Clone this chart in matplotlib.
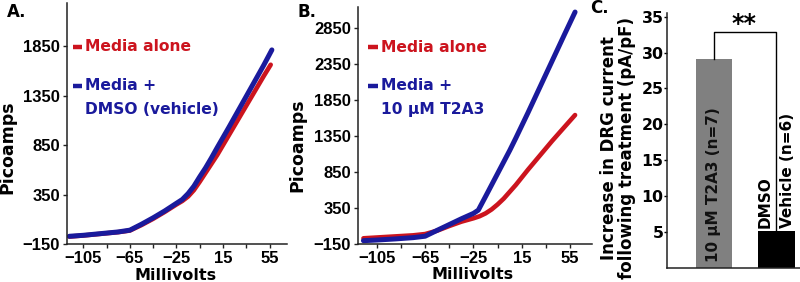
import matplotlib
matplotlib.use('Agg')
import matplotlib.pyplot as plt
from matplotlib.ticker import FixedLocator

RED = '#cc141e'
BLUE = '#1a1a9c'

# Panel A: ramp current, media alone vs DMSO vehicle
a_blue_mv = [-117, -105, -90, -75, -65, -55, -45, -35, -25, -20, -15, -10, -5, 0, 5, 10, 20, 30, 40, 50, 57]
a_blue_pa = [-72, -62, -45, -28, -10, 50, 115, 185, 262, 300, 360, 435, 530, 620, 720, 825, 1030, 1240, 1450, 1660, 1815]
a_red_mv = [-117, -105, -90, -75, -65, -55, -45, -35, -25, -20, -15, -10, -5, 0, 5, 10, 20, 30, 40, 50, 56]
a_red_pa = [-75, -64, -47, -30, -14, 42, 105, 175, 250, 285, 330, 395, 480, 570, 660, 750, 950, 1150, 1350, 1550, 1665]

# Panel B: media alone vs 10 uM T2A3
b_blue_mv = [-116, -105, -90, -75, -65, -55, -45, -35, -25, -21, -15, -10, -5, 0, 5, 10, 20, 30, 40, 50, 59]
b_blue_pa = [-104, -95, -80, -62, -42, 40, 120, 200, 275, 320, 510, 670, 830, 990, 1150, 1320, 1670, 2030, 2390, 2750, 3070]
b_red_mv = [-116, -105, -90, -75, -65, -55, -45, -35, -25, -20, -15, -10, -5, 0, 10, 20, 30, 40, 50, 59]
b_red_pa = [-71, -60, -45, -30, -12, 35, 100, 160, 207, 235, 275, 330, 400, 480, 670, 880, 1080, 1280, 1470, 1640]

# Panel C: increase in DRG current density
c_labels = ['10 \u03bcM T2A3 (n=7)', 'DMSO', 'Vehicle (n=6)']
c_values = [29.1, 5.15]
c_colors = ['#808080', '#000000']

mv_major = [-105, -65, -25, 15, 55]
mv_minor = [-85, -45, -5, 35]
a_yticks = [-150, 350, 850, 1350, 1850]
b_yticks = [-150, 350, 850, 1350, 1850, 2350, 2850]
c_yticks = [5, 10, 15, 20, 25, 30, 35]

plt.rcParams['font.family'] = ['DejaVu Sans']
plt.rcParams['font.weight'] = 'bold'

fig = plt.figure(figsize=(8.0, 2.82), dpi=100)
ax_a = fig.add_axes([0.08375, 0.1348, 0.275, 0.8546])
ax_b = fig.add_axes([0.4475, 0.1348, 0.2925, 0.8404])
ax_c = fig.add_axes([0.83375, 0.0511, 0.16625, 0.9018])


def style_iv(ax, yticks):
    for side in ('top', 'right'):
        ax.spines[side].set_visible(False)
    for side in ('left', 'bottom'):
        ax.spines[side].set_linewidth(1.1)
        ax.spines[side].set_color('#222222')
    ax.xaxis.set_major_locator(FixedLocator(mv_major))
    ax.xaxis.set_minor_locator(FixedLocator(mv_minor))
    ax.set_yticks(yticks)
    ax.tick_params(which='both', direction='out', length=3, width=1, color='#222222', pad=2)
    for lab in ax.get_xticklabels() + ax.get_yticklabels():
        lab.set_family('Liberation Sans')
        lab.set_fontweight('bold')
        lab.set_fontsize(12)
    ax.set_xlabel('Millivolts', fontsize=11.5, fontweight='bold')
    ax.set_ylabel('Picoamps', fontsize=12.5, fontweight='bold')


def key(ax, x, y, color, lines):
    # short coloured dash followed by the label text
    ax.plot([x, x + 0.04], [y, y], transform=ax.transAxes, color=color,
            lw=3.2, solid_capstyle='butt', clip_on=False)
    for i, txt in enumerate(lines):
        ax.text(x + 0.055, y - i * 0.098, txt, transform=ax.transAxes, color=color,
                fontsize=11.2, fontweight='bold', va='center', ha='left')


# ---- A ----
ax_a.plot(a_red_mv, a_red_pa, color=RED, lw=3.3, solid_capstyle='round')
ax_a.plot(a_blue_mv, a_blue_pa, color=BLUE, lw=3.6, solid_capstyle='round')
ax_a.set_xlim(-119, 70)
ax_a.set_ylim(-150, 2290)
style_iv(ax_a, a_yticks)
ax_a.xaxis.set_label_coords(0.495, -0.098)
ax_a.yaxis.set_label_coords(-0.229, 0.40)
key(ax_a, 0.027, 0.819, RED, ['Media alone'])
key(ax_a, 0.027, 0.656, BLUE, ['Media +', 'DMSO (vehicle)'])

# ---- B ----
ax_b.plot(b_red_mv, b_red_pa, color=RED, lw=3.3, solid_capstyle='round')
ax_b.plot(b_blue_mv, b_blue_pa, color=BLUE, lw=3.6, solid_capstyle='round')
ax_b.set_xlim(-120.5, 73)
ax_b.set_ylim(-150, 3140)
style_iv(ax_b, b_yticks)
ax_b.xaxis.set_label_coords(0.491, -0.099)
ax_b.yaxis.set_label_coords(-0.219, 0.418)
key(ax_b, 0.044, 0.831, RED, ['Media alone'])
key(ax_b, 0.044, 0.667, BLUE, ['Media +', '10 \u03bcM T2A3'])

# ---- C ----
pos = [0, 1]
ax_c.bar(pos, c_values, width=0.59, color=c_colors)
ax_c.set_xlim(-0.753, 1.382)
ax_c.set_ylim(0, 35.5)
ax_c.set_xticks([])
ax_c.set_yticks(c_yticks)
for side in ('top', 'right'):
    ax_c.spines[side].set_visible(False)
for side in ('left', 'bottom'):
    ax_c.spines[side].set_linewidth(1.1)
    ax_c.spines[side].set_color('#222222')
ax_c.tick_params(axis='y', direction='out', length=2, width=1, pad=0.5, labelsize=11.3)
ax_c.set_ylabel('Increase in DRG current\nfollowing treatment (pA/pF)',
                fontsize=12.0, fontweight='bold', linespacing=0.95)
ax_c.yaxis.set_label_coords(-0.235, 0.47)

# significance bracket
bracket_y = 32.9
ax_c.plot([pos[0], pos[0], pos[1], pos[1]],
          [c_values[0], bracket_y, bracket_y, c_values[1]],
          color='black', lw=1.0)
ax_c.text((pos[0] + pos[1]) / 2 - 0.02, bracket_y - 0.6, '**', ha='center', va='bottom',
          fontsize=17, fontweight='bold')

# labels written inside / above the bars
ax_c.text(pos[0], 0.8, c_labels[0], rotation=90, ha='center', va='bottom',
          fontsize=11, fontweight='bold', color='#111111')
ax_c.text(pos[1] - 0.18, c_values[1] + 0.35, c_labels[1], rotation=90, ha='center',
          va='bottom', fontsize=11, fontweight='bold')
ax_c.text(pos[1] + 0.186, c_values[1] + 0.35, c_labels[2], rotation=90, ha='center',
          va='bottom', fontsize=11, fontweight='bold')

# panel letters
fig.text(0.021, 0.957, 'A.', fontsize=12, fontweight='bold', ha='center', va='center')
fig.text(0.384, 0.957, 'B.', fontsize=12, fontweight='bold', ha='center', va='center')
fig.text(0.749, 0.97, 'C.', fontsize=12, fontweight='bold', ha='center', va='center')

fig.savefig('out.png', dpi=100)
